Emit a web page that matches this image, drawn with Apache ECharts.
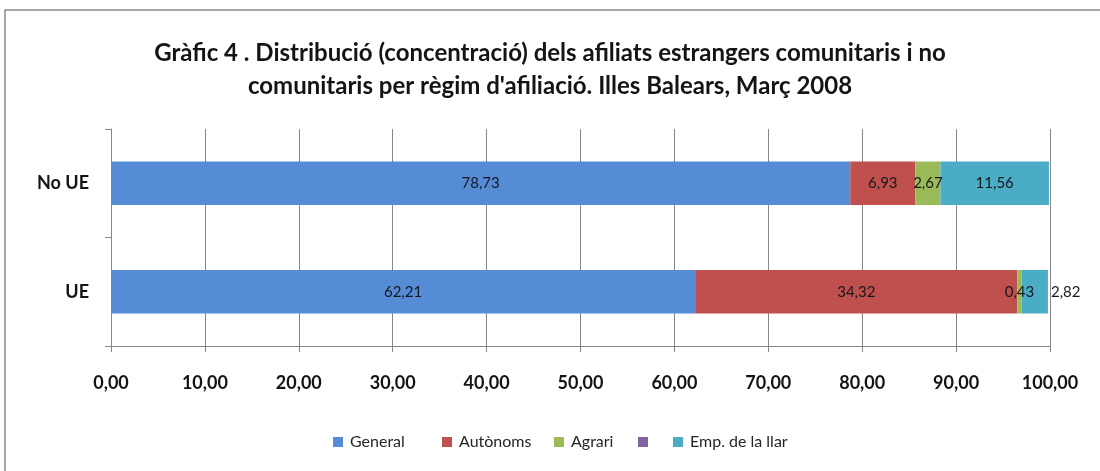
<!DOCTYPE html>
<html><head><meta charset="utf-8">
<script src="https://cdn.jsdelivr.net/npm/echarts@6/dist/echarts.min.js"></script>
<style>html,body{margin:0;padding:0;background:#fff}#c{width:1100px;height:471px}</style>
</head><body><div id="c"></div>
<script>
const categories = ['UE', 'No UE'];
const seriesNames = ['General', 'Autònoms', 'Agrari', '\u00a0', 'Emp. de la llar'];
const general = [62.21, 78.73];
const autonoms = [34.32, 6.93];
const agrari = [0.43, 2.67];
const altres = [0, 0];
const llar = [2.82, 11.56];
const xTicks = [0, 100, 10];
const colors = ['#558CD5', '#C0504D', '#9BBB59', '#8064A2', '#4BACC6'];

const fmt = v => v.toFixed(2).replace('.', ',');
const font = 'Lato, "Open Sans", sans-serif';

function mk(i, data, showLabel) {
  return {
    name: seriesNames[i], type: 'bar', stack: 't', barCategoryGap: '60%',
    itemStyle: { color: colors[i] },
    label: {
      show: showLabel, position: 'inside', color: '#15181f', fontFamily: font, fontSize: 15,
      formatter: p => fmt(p.value)
    },
    data: data.map(v => v)
  };
}
const sLlar = mk(4, llar, true);
sLlar.data = llar.map((v, k) => k === 0 ? { value: v, label: { position: 'right', distance: 3 } } : v);

const legendLefts = [328, 437, 549, 633, 668];
const legends = seriesNames.map((n, i) => ({
  data: [n], left: legendLefts[i], top: 429, itemWidth: 10, itemHeight: 10, itemGap: 0,
  icon: 'rect', textStyle: { fontFamily: font, fontSize: 16, color: '#262626', padding: [0, 0, 0, 2] }
}));

const chart = echarts.init(document.getElementById('c'));
chart.setOption({
  animation: false,
  title: {
    text: "Gràfic 4 . Distribució (concentració) dels afiliats estrangers comunitaris i no\ncomunitaris per règim d'afiliació. Illes Balears, Març 2008",
    left: 'center', top: 32,
    textStyle: { fontFamily: font, fontWeight: 'bold', fontSize: 24, lineHeight: 33, color: '#141414' }
  },
  graphic: [{ type: 'rect', shape: { x: 5, y: 10, width: 1200, height: 500 }, style: { fill: 'none', stroke: '#8a8a8a', lineWidth: 1.5 } }],
  legend: legends,
  grid: { left: 111, right: 50, top: 129, bottom: 125, containLabel: false },
  xAxis: {
    type: 'value', min: xTicks[0], max: xTicks[1], interval: xTicks[2],
    axisLine: { show: true, lineStyle: { color: '#868686' } },
    axisTick: { show: true, length: 6, lineStyle: { color: '#868686' } },
    splitLine: { show: true, lineStyle: { color: '#868686' } },
    axisLabel: { formatter: v => fmt(v), fontFamily: font, fontWeight: 'bold', fontSize: 18, color: '#141414', margin: 28 }
  },
  yAxis: {
    type: 'category', data: categories,
    axisLine: { show: true, lineStyle: { color: '#868686' } },
    axisTick: { show: true, length: 6, lineStyle: { color: '#868686' } },
    axisLabel: { fontFamily: font, fontWeight: 'bold', fontSize: 18, color: '#141414', margin: 22 }
  },
  series: [mk(0, general, true), mk(1, autonoms, true), mk(2, agrari, true), mk(3, altres, false), sLlar]
});
</script></body></html>
